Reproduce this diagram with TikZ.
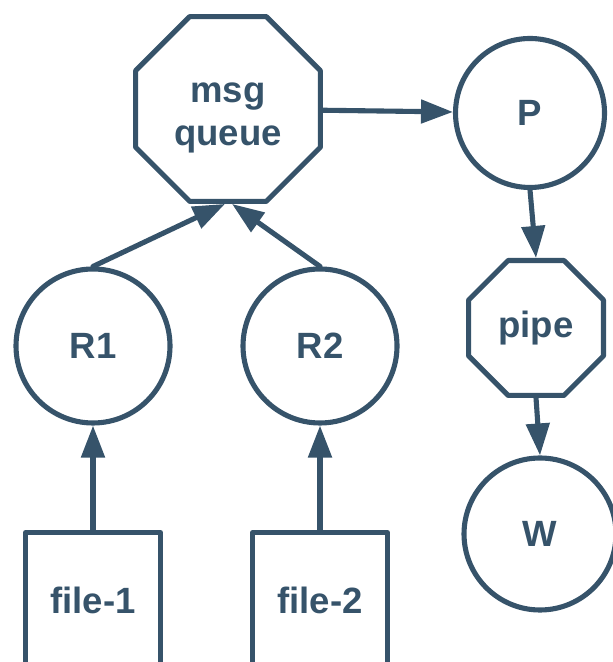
\documentclass[tikz,border=0pt]{standalone}
\usepackage{fontspec}
\setmainfont{Liberation Sans}
\usetikzlibrary{arrows.meta, positioning, shapes.geometric}

\definecolor{slate}{RGB}{54,83,106}

\begin{document}
\begin{tikzpicture}[line cap=round, line join=round]
	
	%======================
	% STYLES
	%======================
	\tikzset{
		>={Triangle[length=3.2mm, width=2.3mm]},
		every node/.style={text=slate, font=\fontsize{10.4}{12.2}\selectfont\bfseries, align=center, inner sep=0pt},
		procnode/.style={circle, draw=slate, line width=1.45pt, minimum size=1.54cm},
		octnode/.style={regular polygon, regular polygon sides=8, draw=slate, line width=1.45pt},
		filenode/.style={rectangle, draw=slate, line width=1.45pt, minimum width=1.35cm, minimum height=1.35cm},
		flow/.style={->, draw=slate, line width=1.45pt}
	}
	
	% canvas (612 x 662)
	\useasboundingbox (0,0) rectangle (6.12,6.62);
	
	%======================
	% NODES
	%======================
	% text of the queue sits a little low in its octagon
	\node[octnode, minimum size=2.0cm,
	      label={[name=mqtext, yshift=-0.09cm]center:{msg\\queue}}] (mq) at (2.28,5.53) {};
	\node[procnode, minimum size=1.49cm] (P) at (5.30,5.49) {P};
	\node[octnode, minimum size=1.46cm] (pipe) at (5.36,3.34) {pipe};
	\node[procnode, minimum size=1.52cm] (W) at (5.40,1.28) {W};
	
	\node[procnode] (R1) at (0.93,3.16) {R1};
	\node[procnode] (R2) at (3.20,3.16) {R2};
	
	\node[filenode] (f1) at (0.93,0.62) {file-1};
	\node[filenode] (f2) at (3.20,0.62) {file-2};
	
	%======================
	% CONNECTORS
	%======================
	\draw[flow] (f1.north) -- (R1.south);
	\draw[flow] (f2.north) -- (R2.south);
	\draw[flow] (R1.north) -- ([xshift=-0.03cm]mq.south);
	\draw[flow] (R2.north) -- ([xshift=0.04cm]mq.south);
	\draw[flow] (mq) -- (P);
	\draw[flow] (P.south) -- (pipe.north);
	\draw[flow] (pipe.south) -- (W.north);
\end{tikzpicture}
\end{document}
